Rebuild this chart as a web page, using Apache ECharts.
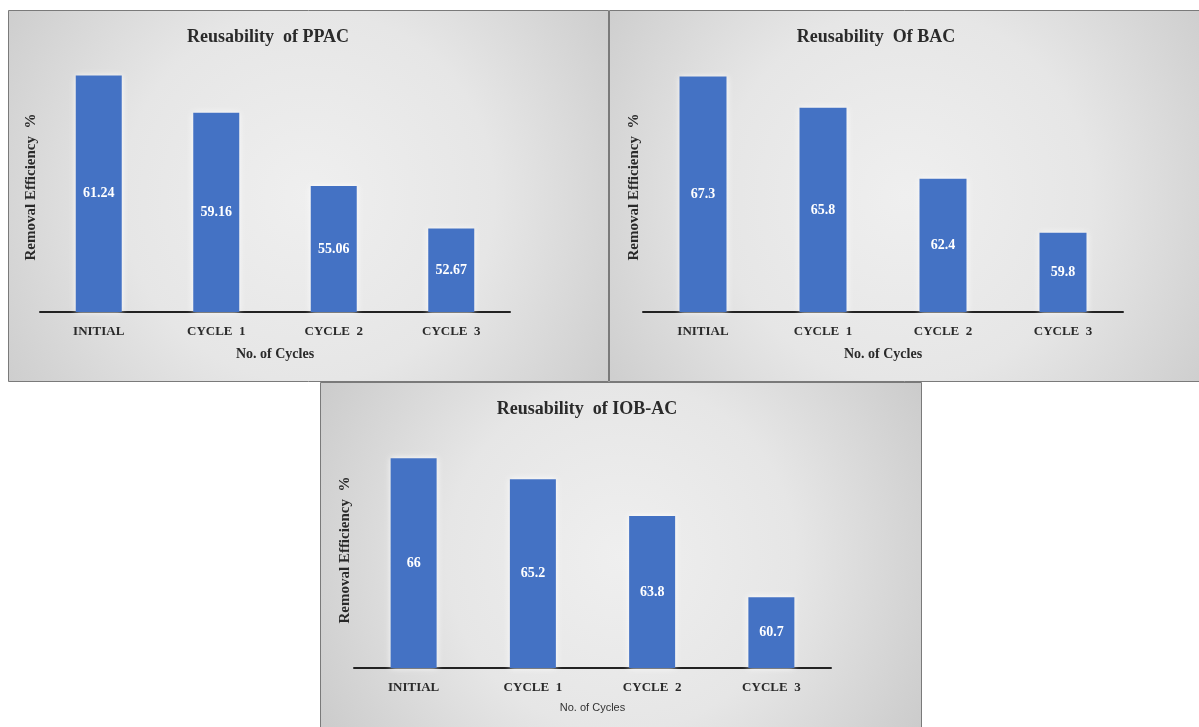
<!DOCTYPE html>
<html>
<head>
<meta charset="utf-8">
<script src="https://cdn.jsdelivr.net/npm/echarts@6/dist/echarts.min.js"></script>
<style>
  html, body { margin: 0; padding: 0; background: #ffffff; }
  #chart { width: 1199px; height: 727px; }
</style>
</head>
<body>
<div id="chart"></div>
<script>
// ---- data ----
const categories = ['INITIAL', 'CYCLE  1', 'CYCLE  2', 'CYCLE  3'];
const ppacValues = [61.24, 59.16, 55.06, 52.67];
const bacValues = [67.3, 65.8, 62.4, 59.8];
const iobValues = [66, 65.2, 63.8, 60.7];
const titles = ['Reusability  of PPAC', 'Reusability  Of BAC', 'Reusability  of IOB-AC'];
const yAxisName = 'Removal Efficiency  %';
const xAxisName = 'No. of Cycles';

const serif = "'Liberation Serif', 'Times New Roman', serif";
const chart = echarts.init(document.getElementById('chart'));

function panelBg(x, y, w, h) {
  return {
    type: 'rect', z: 0, silent: true,
    shape: { x: x, y: y, width: w, height: h },
    style: {
      fill: new echarts.graphic.RadialGradient(0.5, 0.5, 1.0, [
        { offset: 0, color: '#efefef' },
        { offset: 0.5, color: '#e6e6e6' },
        { offset: 1, color: '#cbcbcb' }
      ]),
      stroke: '#7a7a7a', lineWidth: 1
    }
  };
}

const grids = [
  { left: 40, top: 62, width: 470, height: 250 },
  { left: 643, top: 62, width: 480, height: 250 },
  { left: 354, top: 432, width: 477, height: 236 }
];
const yRanges = [[48, 62], [56, 68], [58, 67]];
const seriesData = [ppacValues, bacValues, iobValues];
const barWidths = [46, 47, 46];

const xAxes = grids.map((g, i) => ({
  type: 'category', gridIndex: i, data: categories,
  axisLine: { show: true, lineStyle: { color: '#222', width: 2 } },
  axisTick: { show: false },
  axisLabel: { margin: 13, color: '#2a2a2a', fontFamily: serif, fontWeight: 'bold', fontSize: 13 },
  name: xAxisName, nameLocation: 'middle',
  nameGap: i === 2 ? 34 : 35,
  nameTextStyle: i === 2
    ? { color: '#333', fontFamily: "'Liberation Sans Narrow', 'Liberation Sans', sans-serif", fontSize: 11 }
    : { color: '#2a2a2a', fontFamily: serif, fontWeight: 'bold', fontSize: 14 }
}));

const yAxes = grids.map((g, i) => ({
  type: 'value', gridIndex: i, min: yRanges[i][0], max: yRanges[i][1],
  axisLine: { show: false }, axisTick: { show: false },
  axisLabel: { show: false }, splitLine: { show: false },
  name: yAxisName, nameLocation: 'middle', nameGap: 1,
  nameTextStyle: { color: '#2a2a2a', fontFamily: serif, fontWeight: 'bold', fontSize: 15 }
}));

const series = seriesData.map((d, i) => ({
  type: 'bar', xAxisIndex: i, yAxisIndex: i, data: d,
  barWidth: barWidths[i],
  itemStyle: { color: '#4472C4', shadowColor: 'rgba(255,255,255,0.95)', shadowBlur: 6 },
  label: {
    show: true, position: 'inside', color: '#ffffff',
    fontFamily: serif, fontWeight: 'bold', fontSize: 14
  }
}));

chart.setOption({
  animation: false,
  backgroundColor: '#ffffff',
  graphic: [
    panelBg(8.5, 10.5, 600, 371),
    panelBg(609.5, 10.5, 592, 371),
    panelBg(320.5, 382.5, 601, 348)
  ],
  title: [
    { text: titles[0], left: 263, top: 23, textAlign: 'center',
      textStyle: { fontFamily: serif, fontWeight: 'bold', fontSize: 18, color: '#2a2a2a' } },
    { text: titles[1], left: 871, top: 23, textAlign: 'center',
      textStyle: { fontFamily: serif, fontWeight: 'bold', fontSize: 18, color: '#2a2a2a' } },
    { text: titles[2], left: 582, top: 395, textAlign: 'center',
      textStyle: { fontFamily: serif, fontWeight: 'bold', fontSize: 18, color: '#2a2a2a' } }
  ],
  grid: grids,
  xAxis: xAxes,
  yAxis: yAxes,
  series: series
});
</script>
</body>
</html>
